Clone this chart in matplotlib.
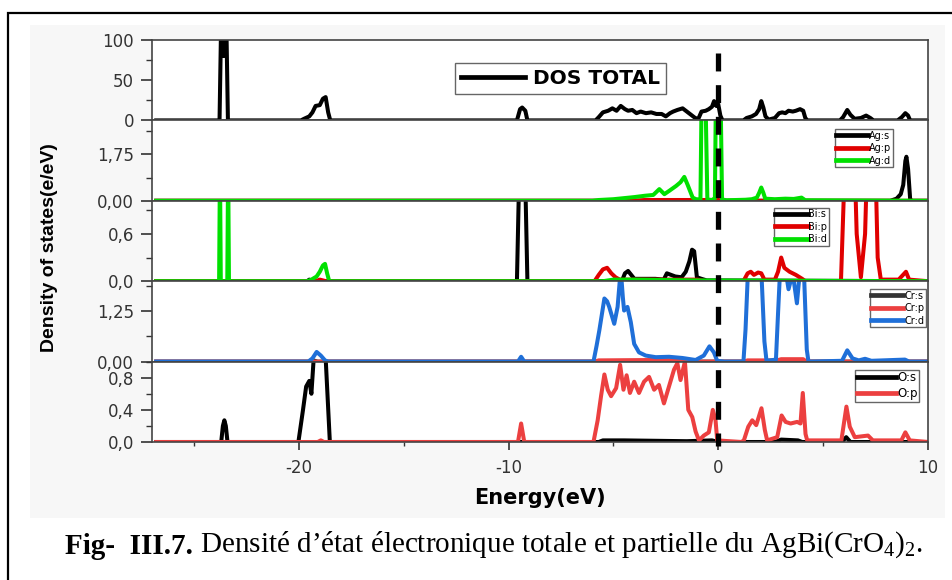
import matplotlib
matplotlib.use("Agg")
import matplotlib.pyplot as plt
import matplotlib.transforms as mtransforms
import numpy as np
from matplotlib.lines import Line2D
from matplotlib.patches import Rectangle
from matplotlib.ticker import FixedLocator, MultipleLocator

plt.rcParams['font.family'] = 'DejaVu Sans'
plt.rcParams['mathtext.fontset'] = 'custom'
plt.rcParams['mathtext.rm'] = 'Liberation Serif'
plt.rcParams['mathtext.bf'] = 'Liberation Serif:bold'

# ---- data: (energy eV, DOS) ----
dos_total = [(-26.8, 0), (-23.78, 0), (-23.68, 160), (-23.58, 80), (-23.48, 160), (-23.38, 0),
             (-19.9, 0), (-19.75, 2), (-19.5, 5), (-19.35, 10), (-19.2, 18), (-19.0, 19),
             (-18.85, 27), (-18.72, 29), (-18.6, 10), (-18.5, 0),
             (-9.6, 0), (-9.45, 14), (-9.35, 16), (-9.2, 12), (-9.1, 0),
             (-5.85, 0), (-5.7, 4), (-5.5, 10), (-5.25, 12), (-5.05, 15), (-4.85, 12), (-4.65, 18),
             (-4.45, 14), (-4.3, 12), (-4.1, 13), (-3.9, 9), (-3.7, 11), (-3.45, 9), (-3.2, 10),
             (-2.95, 8), (-2.7, 8), (-2.5, 5), (-2.3, 9), (-2.15, 11), (-1.95, 13), (-1.7, 15),
             (-1.5, 11), (-1.3, 7), (-1.1, 3), (-0.95, 2), (-0.8, 11), (-0.6, 12), (-0.45, 14),
             (-0.3, 17), (-0.2, 24), (-0.1, 18), (0.0, 20), (0.1, 6), (0.2, 0),
             (1.2, 0), (1.35, 3), (1.6, 5), (1.8, 8), (1.95, 14), (2.05, 24), (2.15, 16), (2.25, 5),
             (2.4, 1), (2.7, 3), (2.9, 9), (3.05, 10), (3.2, 9), (3.35, 12), (3.55, 11), (3.7, 12),
             (3.9, 14), (4.05, 12), (4.15, 3), (4.25, 0),
             (5.8, 0), (5.95, 4), (6.15, 13), (6.3, 7), (6.5, 2), (6.8, 3), (7.05, 6), (7.25, 3),
             (7.4, 0), (8.55, 0), (8.75, 4), (8.92, 9), (9.05, 6), (9.15, 0), (10.0, 0)]

ag_s = [(-26.8, 0), (8.2, 0), (8.5, 0.08), (8.7, 0.25), (8.82, 0.6), (8.92, 1.5), (8.97, 1.66),
        (9.05, 1.2), (9.15, 0.05), (9.25, 0), (10.0, 0)]
ag_p = [(-26.8, 0), (-4.0, 0), (-3.5, 0.03), (-1.0, 0.03), (0.0, 0.03), (0.2, 0), (10.0, 0)]
ag_d = [(-26.8, 0), (-6.0, 0), (-5.7, 0.03), (-5.0, 0.06), (-4.5, 0.1), (-4.0, 0.14), (-3.5, 0.19),
        (-3.1, 0.22), (-2.81, 0.44), (-2.57, 0.25), (-2.33, 0.38), (-2.01, 0.56), (-1.8, 0.7),
        (-1.62, 0.9), (-1.46, 0.6), (-1.22, 0.12), (-1.06, 0.06), (-0.85, 0.05), (-0.8, 3.5),
        (-0.6, 3.5), (-0.52, 0.05), (-0.3, 0.03), (-0.16, 0.1), (-0.12, 3.5), (0.12, 3.5),
        (0.18, 0.05), (0.4, 0.02), (1.3, 0.04), (1.6, 0.06), (1.84, 0.12), (1.95, 0.3), (2.05, 0.5),
        (2.15, 0.3), (2.24, 0.08), (2.7, 0.06), (3.2, 0.08), (3.6, 0.07), (3.97, 0.12), (4.15, 0.02),
        (10.0, 0)]

bi_s = [(-26.8, 0), (-19.6, 0), (-19.5, 0.02), (-19.3, 0), (-9.6, 0), (-9.48, 1.5), (-9.22, 1.5),
        (-9.1, 0), (-4.6, 0), (-4.45, 0.1), (-4.3, 0.13), (-4.15, 0.08), (-4.0, 0.03), (-3.0, 0.03),
        (-2.6, 0.02), (-2.45, 0.1), (-2.25, 0.08), (-2.05, 0.06), (-1.75, 0.05), (-1.55, 0.12),
        (-1.38, 0.25), (-1.25, 0.4), (-1.15, 0.38), (-1.02, 0.05), (-0.8, 0.03), (-0.55, 0.01),
        (10.0, 0)]
bi_p = [(-26.8, 0), (-19.2, 0), (-19.0, 0.02), (-18.7, 0), (-5.9, 0), (-5.7, 0.08), (-5.5, 0.15),
        (-5.3, 0.17), (-5.1, 0.1), (-4.9, 0.05), (-4.7, 0.02), (-1.0, 0.02), (-0.6, 0),
        (1.2, 0), (1.4, 0.1), (1.55, 0.12), (1.7, 0.08), (1.9, 0.11), (2.05, 0.1), (2.2, 0.02),
        (2.7, 0.02), (2.85, 0.12), (3.0, 0.3), (3.15, 0.17), (3.4, 0.12), (3.7, 0.08), (4.0, 0.03),
        (4.15, 0), (5.85, 0), (6.0, 1.2), (6.15, 2.0), (6.45, 2.0), (6.6, 0.6), (6.8, 0.05),
        (7.0, 0.6), (7.15, 2.0), (7.45, 2.0), (7.6, 0.3), (7.75, 0.02), (8.6, 0.02), (8.95, 0.12),
        (9.1, 0.02), (10.0, 0)]
bi_d = [(-26.8, 0), (-23.8, 0), (-23.76, 1.5), (-23.72, 0), (-23.41, 0), (-23.37, 1.5), (-23.33, 0),
        (-19.6, 0), (-19.4, 0.02), (-19.15, 0.06), (-19.0, 0.12), (-18.85, 0.2), (-18.75, 0.22),
        (-18.65, 0.1), (-18.55, 0), (-5.5, 0), (-5.0, 0.02), (-4.0, 0.02), (-1.0, 0.01), (10.0, 0)]

cr_s = [(-26.8, 0), (-19.5, 0), (-19.3, 0.03), (-19.1, 0), (-4.0, 0), (-3.5, 0.02), (-3.0, 0),
        (10.0, 0)]
cr_p = [(-26.8, 0), (-5.9, 0), (-5.7, 0.03), (-3.0, 0.04), (-1.6, 0.03), (-1.4, 0), (1.2, 0),
        (1.4, 0.03), (2.2, 0.03), (2.8, 0.03), (3.0, 0.06), (4.05, 0.06), (4.2, 0), (10.0, 0)]
cr_d = [(-26.8, 0), (-19.55, 0), (-19.35, 0.08), (-19.15, 0.24), (-18.95, 0.15), (-18.75, 0.03),
        (-18.6, 0), (-9.55, 0), (-9.4, 0.12), (-9.25, 0), (-5.95, 0), (-5.8, 0.4), (-5.67, 0.78),
        (-5.43, 1.57), (-5.3, 1.5), (-5.2, 1.36), (-4.96, 0.94), (-4.8, 1.36), (-4.65, 2.3),
        (-4.55, 1.6), (-4.49, 1.27), (-4.33, 1.36), (-4.17, 0.98), (-4.01, 0.44), (-3.78, 0.23),
        (-3.46, 0.15), (-2.98, 0.11), (-2.35, 0.12), (-1.71, 0.09), (-1.08, 0.04), (-0.69, 0.15),
        (-0.42, 0.38), (-0.21, 0.23), (-0.05, 0.02), (0.3, 0), (1.2, 0), (1.3, 0.8), (1.42, 2.3),
        (2.05, 2.3), (2.2, 0.5), (2.3, 0.02), (2.75, 0.05), (2.85, 1.2), (2.95, 2.3), (3.2, 2.3),
        (3.35, 1.8), (3.55, 2.2), (3.75, 1.45), (3.9, 2.3), (4.08, 2.3), (4.22, 0.3), (4.3, 0),
        (5.9, 0.02), (6.15, 0.28), (6.4, 0.08), (6.7, 0.03), (7.0, 0.07), (7.3, 0.02), (8.9, 0.05),
        (9.1, 0), (10.0, 0)]

o_s = [(-26.8, 0), (-23.7, 0), (-23.62, 0.2), (-23.55, 0.27), (-23.48, 0.2), (-23.4, 0),
       (-20.02, 0), (-19.8, 0.4), (-19.65, 0.69), (-19.5, 0.76), (-19.4, 0.6), (-19.25, 1.2),
       (-18.75, 1.2), (-18.52, 0), (-5.7, 0), (-5.5, 0.02), (-4.5, 0.02), (-3.0, 0.015),
       (-1.5, 0.01), (-0.3, 0.02), (0.0, 0), (2.7, 0), (3.0, 0.03), (3.8, 0.02), (4.0, 0),
       (5.9, 0), (6.1, 0.06), (6.3, 0), (10.0, 0)]
o_p = [(-26.8, 0), (-19.1, 0), (-18.95, 0.02), (-18.8, 0), (-9.55, 0), (-9.4, 0.23), (-9.25, 0),
       (-5.95, 0), (-5.75, 0.27), (-5.59, 0.57), (-5.43, 0.84), (-5.27, 0.65), (-5.11, 0.57),
       (-4.87, 0.67), (-4.68, 0.96), (-4.52, 0.65), (-4.37, 0.83), (-4.21, 0.61), (-4.01, 0.75),
       (-3.78, 0.61), (-3.54, 0.75), (-3.3, 0.81), (-3.06, 0.65), (-2.83, 0.71), (-2.59, 0.48),
       (-2.35, 0.69), (-2.11, 0.9), (-1.95, 0.98), (-1.8, 0.77), (-1.59, 1.0), (-1.43, 0.4),
       (-1.24, 0.31), (-1.08, 0.13), (-0.92, 0.02), (-0.69, 0.08), (-0.45, 0.12), (-0.26, 0.4),
       (-0.13, 0.27), (-0.05, 0.02), (1.1, 0), (1.22, 0.02), (1.43, 0.19), (1.62, 0.27),
       (1.81, 0.21), (2.06, 0.42), (2.22, 0.15), (2.33, 0.02), (2.81, 0.06), (3.02, 0.33),
       (3.21, 0.25), (3.45, 0.23), (3.76, 0.25), (3.92, 0.23), (4.03, 0.61), (4.16, 0.1),
       (4.24, 0.02), (5.87, 0.02), (6.11, 0.44), (6.27, 0.19), (6.51, 0.06), (7.14, 0.08),
       (7.37, 0.02), (8.73, 0.02), (8.92, 0.12), (9.13, 0.02), (10.0, 0)]

x_ticks = [-20, -10, 0, 10]
x_ticklabels = ["-20", "-10", "0", "10"]
fermi = 0.0

panels = [
    dict(series=[(dos_total, "DOS TOTAL", "black")], ylim=(0, 100),
         yticks=[0, 50, 100], ylabels=["0", "50", "100"], minor=25),
    dict(series=[(ag_s, "Ag:s", "black"), (ag_p, "Ag:p", "#e00000"), (ag_d, "Ag:d", "#00e000")],
         ylim=(0, 3.03), yticks=[0, 1.75], ylabels=["0,00", "1,75"], minor=0.875),
    dict(series=[(bi_s, "Bi:s", "black"), (bi_p, "Bi:p", "#e00000"), (bi_d, "Bi:d", "#00e000")],
         ylim=(0, 1.02), yticks=[0, 0.6], ylabels=["0,0", "0,6"], minor=0.3),
    dict(series=[(cr_s, "Cr:s", "#333333"), (cr_p, "Cr:p", "#ec4040"), (cr_d, "Cr:d", "#1f6fd8")],
         ylim=(0, 2.0), yticks=[0, 1.25], ylabels=["0,00", "1,25"], minor=0.625),
    dict(series=[(o_s, "O:s", "black"), (o_p, "O:p", "#ec4040")],
         ylim=(0, 1.0), yticks=[0, 0.4, 0.8], ylabels=["0,0", "0,4", "0,8"], minor=0.2),
]

legend_anchor = [(0.39, 0.715), (0.880, 0.89), (0.8015, 0.912), (0.925, 0.90), (0.906, 0.90)]
legend_size = [14.5, 7, 7, 7, 8.5]

W, H = 952, 580
fig = plt.figure(figsize=(W / 100, H / 100), dpi=100)

# page frame and faint backing
fig.add_artist(Rectangle((30 / W, 1 - 518 / H), 915 / W, 493 / H, transform=fig.transFigure,
                         facecolor="#f7f7f7", edgecolor="none", zorder=-2))
fig.add_artist(Rectangle((8 / W, -0.1), 1.2, 1.1 - 13 / H, transform=fig.transFigure,
                         facecolor="none", edgecolor="black", lw=1.6, zorder=-1))

left, right = 152 / W, 928 / W
bottom, top = 1 - 442 / H, 1 - 40 / H
ph = (top - bottom) / 5
axes = []
for i, p in enumerate(panels):
    ax = fig.add_axes([left, top - (i + 1) * ph, right - left, ph])
    axes.append(ax)
    for data, label, color in p["series"]:
        e, d = np.array(data).T
        ax.plot(e, d, color=color, lw=2.9, label=label, solid_joinstyle="round")
    ax.set_xlim(-27, 10)
    ax.set_ylim(*p["ylim"])
    ax.yaxis.set_major_locator(FixedLocator(p["yticks"]))
    ax.set_yticklabels(p["ylabels"])
    ax.yaxis.set_minor_locator(MultipleLocator(p["minor"]))
    ax.tick_params(axis="y", which="major", direction="out", length=8, width=1.2,
                   labelsize=12, colors="#333333", pad=5)
    ax.tick_params(axis="y", which="minor", direction="out", length=4, width=1.0, colors="#333333")
    for s in ax.spines.values():
        s.set_color("#444444")
        s.set_linewidth(1.2)
    if i < 4:
        ax.tick_params(axis="x", which="both", bottom=False, labelbottom=False)
    else:
        ax.set_xticks(x_ticks, labels=x_ticklabels)
        ax.xaxis.set_minor_locator(MultipleLocator(5))
        ax.tick_params(axis="x", which="major", direction="out", length=6, width=1.2,
                       labelsize=12, colors="#333333", pad=6)
        ax.tick_params(axis="x", which="minor", direction="out", length=3, width=1.0,
                       colors="#333333")
        ax.set_xlabel("Energy(eV)", fontsize=15, fontweight="bold", labelpad=8)
    fs = legend_size[i]
    leg = ax.legend(loc="upper left", bbox_to_anchor=legend_anchor[i], borderaxespad=0,
                    fancybox=False, framealpha=1, edgecolor="#666666",
                    prop=dict(size=fs, weight="bold" if i == 0 else "normal"),
                    handlelength=3.3 if i else 3.2, handletextpad=0.1 if i else 0.4,
                    borderpad=0.15 if i else 0.3, labelspacing=0.25)
    leg.get_frame().set_linewidth(1.0)
    for h in leg.get_lines():
        h.set_linewidth(3.4)

# Fermi level dashed line through all panels
trans = mtransforms.blended_transform_factory(axes[-1].transData, fig.transFigure)
fig.add_artist(Line2D([fermi, fermi], [1 - 53 / H, 1 - 446 / H], transform=trans, color="black",
                      lw=3.8, ls=(0, (3.4, 2.6)), zorder=5))

fig.text(50 / W, 1 - 248 / H, "Density of states(e/eV)", rotation=90, ha="center", va="center",
         fontsize=14, fontweight="bold", family="Liberation Sans")

t1 = fig.text(65 / W, 1 - 547 / H, "Fig-  III.7.", fontsize=21, fontweight="bold",
              family="Liberation Serif", va="center")
axes[-1].annotate(" Densité d’état électronique totale et partielle du AgBi(CrO$_4$)$_2$.",
                  xy=(1, 0), xycoords=t1, va="bottom", ha="left", fontsize=21,
                  family="Liberation Serif", annotation_clip=False)

fig.savefig("out.png", dpi=100)
